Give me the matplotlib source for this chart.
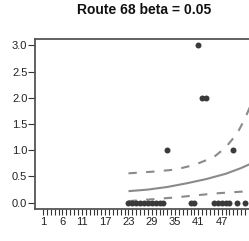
import matplotlib
matplotlib.use("Agg")
import matplotlib.pyplot as plt

# observed counts per year index
obs_x = [23, 24, 25, 26, 27, 28, 29, 30, 31, 32, 33, 39, 40, 41, 42, 43,
         45, 46, 47, 48, 49, 50, 51, 53]
obs_y = [0, 0, 0, 0, 0, 0, 0, 0, 0, 0, 1, 0, 0, 3, 2, 2,
         0, 0, 0, 0, 0, 1, 0, 0]

# fitted trend and band
fit_x = [23, 28, 33, 38, 43, 48, 52, 55]
fit_y = [0.22, 0.25, 0.30, 0.37, 0.45, 0.55, 0.66, 0.76]
up_x = [23, 29, 35, 40, 45, 48, 51, 53, 55]
up_y = [0.56, 0.59, 0.63, 0.72, 0.87, 1.05, 1.32, 1.60, 1.95]
lo_x = [23, 29, 35, 41, 46, 52, 55]
lo_y = [0.03, 0.065, 0.10, 0.145, 0.18, 0.21, 0.22]

xticks = list(range(1, 54))
xlabels_shown = [1, 6, 11, 17, 23, 29, 35, 41, 47]
yticks = [0.0, 0.5, 1.0, 1.5, 2.0, 2.5, 3.0]

plt.rcParams["font.family"] = ["Liberation Sans", "DejaVu Sans"]

fig = plt.figure(figsize=(2.49, 2.41), dpi=100)
ax = fig.add_axes([35 / 249, 32 / 241, 218 / 249, 170 / 241])

line_col = "#8a8a8a"
ax.plot(fit_x, fit_y, color=line_col, lw=1.5, solid_capstyle="butt")
ax.plot(up_x, up_y, color=line_col, lw=1.5, dashes=(4, 4.5))
ax.plot(lo_x, lo_y, color=line_col, lw=1.5, dashes=(4, 4.5))
ax.plot(obs_x, obs_y, "o", color="#3a3a3a", ms=4.3, mew=0)

ax.set_xlim(-1.08, 55.08)
ax.set_ylim(-0.12, 3.12)

ax.set_xticks(xticks)
ax.set_xticklabels([str(v) if v in xlabels_shown else "" for v in xticks])
ax.set_yticks(yticks)
ax.set_yticklabels([f"{v:.1f}" for v in yticks])

ax.tick_params(axis="x", length=4.3, width=0.8, pad=1.5, labelsize=8,
               color="#333333", labelcolor="#222222")
ax.tick_params(axis="y", length=5, width=0.8, pad=0.5, labelsize=8,
               color="#333333", labelcolor="#222222")
for s in ax.spines.values():
    s.set_linewidth(1.3)
    s.set_color("#555555")

fig.text(144.5 / 249, 1 - 10 / 241, "Route 68 beta = 0.05", ha="center",
         va="center", fontsize=10, fontweight="bold", color="#111111")

fig.savefig("out.png", dpi=100)
